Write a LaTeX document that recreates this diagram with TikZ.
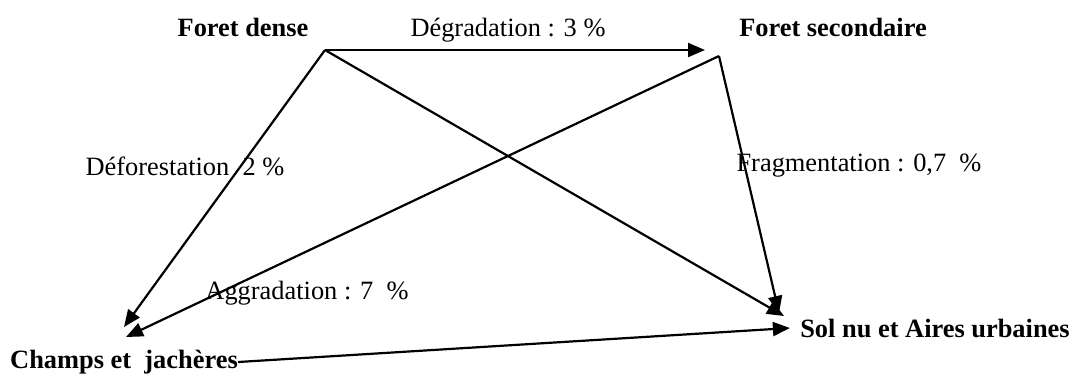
\documentclass[tikz,border=0pt]{standalone}
\usepackage{fontspec}
\setmainfont{Liberation Serif}
\usetikzlibrary{arrows.meta}
\tikzset{
  LBL/.style={font=\fontsize{13.2}{15}\selectfont, inner sep=0pt},
  STA/.style={LBL, font=\fontsize{13.2}{15}\selectfont\bfseries},
  ARR/.style={-{Triangle[length=8.5pt,width=7pt]}, line width=1.1pt, black},
}

\begin{document}
\begin{tikzpicture}[x=0.5pt,y=-0.5pt]
\useasboundingbox (0,0) rectangle (1076,377);

%================ STATES =================
\node[STA] (fd) at (243,27)  {Foret dense};
\node[STA] (fs) at (833,27)  {Foret secondaire};
\node[STA] (cj) at (124,362) {Champs et\ \ jachères};
\node[STA] (sn) at (935,328) {Sol nu et Aires urbaines};

%================ END POINTS =================
\coordinate (fdPt)   at (325,50);
\coordinate (fsPt)   at (719,56);
\coordinate (dgTip)  at (705,50);
\coordinate (cjTipA) at (124,327);
\coordinate (cjTipB) at (126,337);
\coordinate (snTipA) at (784,316);
\coordinate (snTipB) at (779,313);

%================ TRANSITIONS =================
\draw[ARR] (fdPt)--(dgTip);
\draw[ARR] (fdPt)--(cjTipA);
\draw[ARR] (fdPt)--(snTipA);
\draw[ARR] (fsPt)--(cjTipB);
\draw[ARR] (fsPt)--(snTipB);
\draw[ARR] (cj.east)--([xshift=-5pt]sn.west);

%================ RATES =================
\node[LBL] (dg) at (508,30)  {Dégradation : 3 \%};
\node[LBL] (df) at (185,166) {Déforestation\ \ 2 \%};
\node[LBL] (fr) at (859,166) {Fragmentation : 0,7\ \ \%};
\node[LBL] (ag) at (307,293) {Aggradation : 7\ \ \%};

\end{tikzpicture}
\end{document}
